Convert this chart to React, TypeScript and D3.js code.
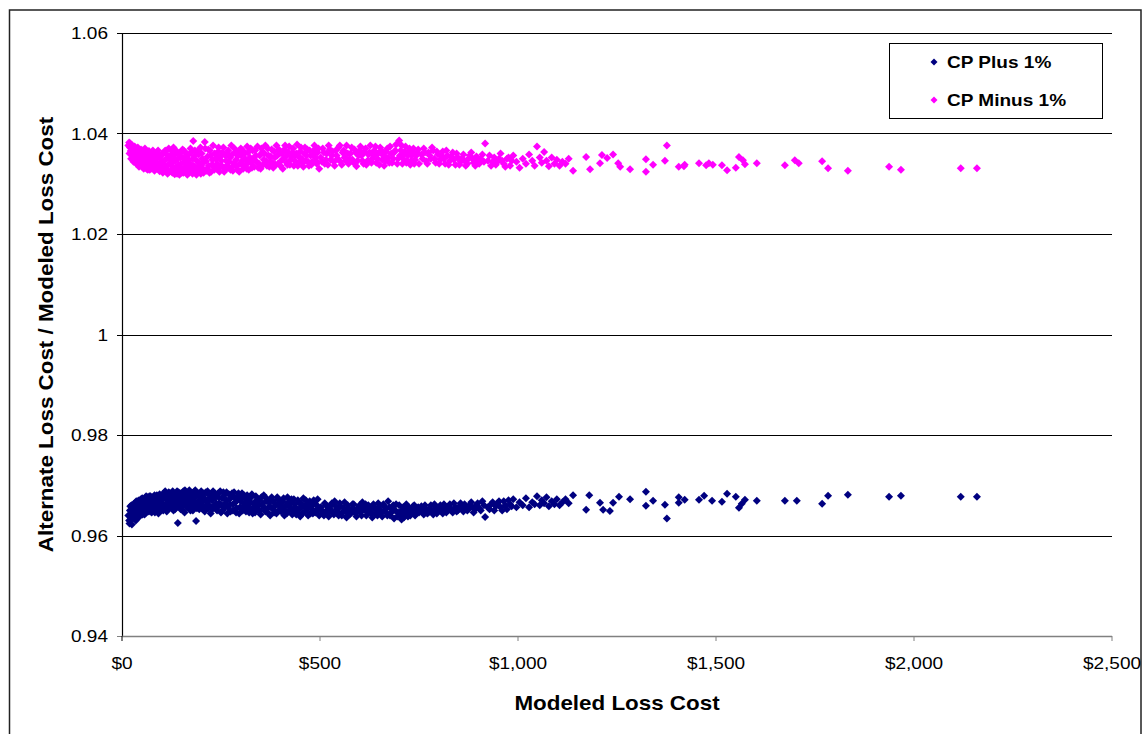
import React from "react";
import * as d3 from "d3";

const xTicks = [0, 500, 1000, 1500, 2000, 2500];
const yTicks = [0.94, 0.96, 0.98, 1.0, 1.02, 1.04, 1.06];
const yTickLabels = ["0.94", "0.96", "0.98", "1", "1.02", "1.04", "1.06"];
const seriesNames = ["CP Plus 1%", "CP Minus 1%"];
const seriesColors = ["#000080", "#FF00FF"];

const minusPoints: [number, number][] = [
  [18,1.0382],[20,1.0372],[22,1.0365],[24,1.0358],[25,1.0377],[27,1.0350],[28,1.0368],[30,1.0361],[32,1.0374],[33,1.0345],[35,1.0355],[37,1.0366],[38,1.0340],[40,1.0372],[42,1.0350],[44,1.0360],[45,1.0337],[47,1.0345],[48,1.0368],[50,1.0355],
  [52,1.0333],[54,1.0362],[56,1.0342],[58,1.0370],[60,1.0350],[62,1.0330],[64,1.0358],[66,1.0340],[68,1.0365],[70,1.0328],[72,1.0348],[75,1.0360],[77,1.0336],[80,1.0352],[82,1.0326],[85,1.0344],[87,1.0362],[90,1.0332],[92,1.0355],[95,1.0325],[97,1.0342],[100,1.0358],
  [103,1.0322],[105,1.0338],[108,1.0365],[110,1.0330],[113,1.0350],[115,1.0320],[118,1.0370],[120,1.0340],[123,1.0326],[126,1.0358],[128,1.0334],[130,1.0372],[133,1.0319],[135,1.0346],[138,1.0328],[140,1.0362],[143,1.0338],[145,1.0318],[148,1.0352],[150,1.0330],[153,1.0368],[155,1.0322],[158,1.0344],[160,1.0334],[163,1.0360],[165,1.0318],[168,1.0348],[170,1.0326],[173,1.0370],[175,1.0338],[178,1.0320],[180,1.0385],[183,1.0355],[185,1.0332],[188,1.0318],[190,1.0364],[193,1.0342],[195,1.0325],[198,1.0372],[200,1.0336],
  [203,1.0350],[206,1.0322],[209,1.0383],[212,1.0345],[215,1.0330],[218,1.0368],[221,1.0322],[224,1.0356],[227,1.0338],[230,1.0376],[233,1.0328],[236,1.0350],[240,1.0340],[243,1.0364],[246,1.0324],[250,1.0355],[253,1.0335],[256,1.0372],[260,1.0328],[263,1.0346],[266,1.0360],[270,1.0332],[273,1.0352],[276,1.0376],[280,1.0326],[283,1.0342],[286,1.0362],[290,1.0335],[293,1.0355],[296,1.0324],[300,1.0370],[303,1.0345],[306,1.0330],[310,1.0360],[313,1.0338],[316,1.0374],[320,1.0328],[323,1.0352],[326,1.0342],[330,1.0366],
  [334,1.0334],[338,1.0356],[342,1.0374],[346,1.0340],[350,1.0330],[354,1.0362],[358,1.0348],[362,1.0376],[366,1.0336],[370,1.0356],[374,1.0344],[378,1.0368],[382,1.0332],[386,1.0352],[390,1.0376],[394,1.0340],[398,1.0360],[402,1.0346],[406,1.0330],[410,1.0368],[414,1.0354],[418,1.0338],[422,1.0374],[426,1.0348],[430,1.0362],[434,1.0336],[438,1.0356],[442,1.0378],[446,1.0342],[450,1.0364],[454,1.0350],[458,1.0334],[462,1.0372],[466,1.0356],[470,1.0344],[474,1.0366],[478,1.0338],[482,1.0358],[486,1.0376],[490,1.0346],[494,1.0362],[498,1.0330],
  [502,1.0352],[507,1.0370],[512,1.0340],[517,1.0360],[522,1.0376],[527,1.0348],[532,1.0364],[537,1.0336],[542,1.0356],[547,1.0372],[552,1.0344],[557,1.0362],[562,1.0352],[567,1.0376],[572,1.0340],[577,1.0360],[582,1.0348],[587,1.0368],[592,1.0335],[597,1.0356],[602,1.0374],[607,1.0346],[612,1.0364],[617,1.0338],[622,1.0358],[627,1.0376],[632,1.0350],[637,1.0366],[642,1.0342],[647,1.0360],[652,1.0372],[657,1.0348],[662,1.0336],[667,1.0364],[672,1.0352],[677,1.0374],[682,1.0342],[687,1.0362],[692,1.0378],[697,1.0350],[700,1.0386],[704,1.0366],[708,1.0340],[712,1.0358],[716,1.0374],[720,1.0346],[724,1.0364],[728,1.0338],[732,1.0356],[736,1.0370],[740,1.0348],[745,1.0362],[750,1.0340],
  [756,1.0358],[762,1.0370],[768,1.0345],[774,1.0362],[780,1.0350],[786,1.0366],[792,1.0342],[798,1.0358],[804,1.0348],[810,1.0364],[816,1.0340],[822,1.0356],[828,1.0346],[835,1.0362],[842,1.0338],[848,1.0352],[855,1.0344],[862,1.0358],[868,1.0336],[875,1.0350],[882,1.0362],[888,1.0342],[895,1.0354],[902,1.0340],[910,1.0358],[917,1.0380],[924,1.0346],[932,1.0336],[940,1.0352],[948,1.0344],[956,1.0360],[964,1.0340],[972,1.0350],[980,1.0336],[988,1.0356],[996,1.0344],[1004,1.0332],[1012,1.0350],[1020,1.0340],[1028,1.0358],[1036,1.0346],[1042,1.0336],[1048,1.0374],[1055,1.0352],[1060,1.0342],[1066,1.0363],[1072,1.0346],[1078,1.0335],[1085,1.0352],[1092,1.0340],[1098,1.0348],[1105,1.0336],[1112,1.0344],[1120,1.0340],[1128,1.0350],
  [1139,1.0326],[1172,1.0353],[1182,1.0329],[1207,1.0341],[1212,1.0357],[1225,1.0351],[1240,1.0358],[1253,1.0341],[1258,1.0334],[1283,1.0329],
  [1323,1.0349],[1323,1.0324],[1341,1.0338],[1376,1.0376],[1371,1.0346],[1406,1.0334],[1419,1.0335],[1421,1.0338],[1457,1.0341],[1475,1.0337],[1482,1.0341],[1492,1.0338],[1515,1.0337],[1528,1.0327],[1550,1.0332],[1558,1.0353],[1568,1.0347],[1573,1.0339],[1603,1.0341],[1674,1.0337],[1699,1.0347],[1709,1.0341],[1768,1.0345],[1783,1.0331],[1833,1.0326],[1937,1.0334],[1967,1.0328],[2118,1.0331],[2159,1.0331],
  [16,1.0376],[19,1.0360],[21,1.0380],[23,1.0350],[26,1.0366],[29,1.0344],[31,1.0356],[34,1.0368],[36,1.0340],[39,1.0352],[41,1.0364],[43,1.0334],[46,1.0356],[49,1.0340],[51,1.0366],[53,1.0348],[55,1.0330],[57,1.0356],[59,1.0338],[61,1.0364],[63,1.0345],[65,1.0328],[67,1.0352],[69,1.0336],[71,1.0360],[73,1.0330],[76,1.0348],[78,1.0366],[81,1.0340],[83,1.0356],[86,1.0330],[88,1.0350],[91,1.0366],[93,1.0338],[96,1.0352],[98,1.0330],
  [101,1.0344],[104,1.0360],[106,1.0326],[109,1.0348],[111,1.0366],[114,1.0336],[116,1.0356],[119,1.0324],[121,1.0350],[124,1.0366],[127,1.0322],[129,1.0344],[131,1.0356],[134,1.0332],[136,1.0366],[139,1.0320],[141,1.0350],[144,1.0328],[146,1.0360],[149,1.0340],[151,1.0322],[154,1.0352],[156,1.0366],[159,1.0326],[161,1.0346],[164,1.0332],[166,1.0356],[169,1.0322],[171,1.0340],[174,1.0362],[176,1.0328],[179,1.0350],[181,1.0336],[184,1.0366],[186,1.0322],[189,1.0346],[191,1.0330],[194,1.0358],[196,1.0340],[199,1.0320],
  [201,1.0360],[204,1.0330],[207,1.0344],[210,1.0370],[213,1.0326],[216,1.0354],[219,1.0336],[222,1.0366],[225,1.0324],[228,1.0348],[231,1.0336],[234,1.0360],[238,1.0330],[241,1.0352],[244,1.0372],[248,1.0334],[251,1.0346],[254,1.0362],[258,1.0324],[261,1.0356],[264,1.0336],[268,1.0366],[271,1.0344],[274,1.0328],[278,1.0358],[281,1.0336],[284,1.0370],[288,1.0348],[291,1.0328],[294,1.0364],[298,1.0340],
  [301,1.0356],[305,1.0366],[308,1.0336],[311,1.0350],[315,1.0330],[318,1.0362],[321,1.0344],[325,1.0370],[328,1.0332],[332,1.0350],[336,1.0366],[340,1.0344],[344,1.0332],[348,1.0356],[352,1.0370],[356,1.0338],[360,1.0360],[364,1.0346],[368,1.0370],[372,1.0334],[376,1.0354],[380,1.0342],[384,1.0364],[388,1.0338],[392,1.0356],[396,1.0368],[400,1.0336],[404,1.0360],[408,1.0350],[412,1.0376],[416,1.0342],[420,1.0362],[424,1.0338],[428,1.0354],[432,1.0370],[436,1.0346],[440,1.0360],[444,1.0336],[448,1.0352],[452,1.0372],[456,1.0342],[460,1.0360],[464,1.0346],[468,1.0368],[472,1.0336],[476,1.0356],[480,1.0344],[484,1.0366],[488,1.0352],[492,1.0340],[496,1.0370],
  [505,1.0344],[510,1.0362],[515,1.0348],[520,1.0338],[525,1.0368],[530,1.0356],[535,1.0344],[540,1.0366],[545,1.0350],[550,1.0376],[555,1.0338],[560,1.0366],[565,1.0346],[570,1.0360],[575,1.0350],[580,1.0372],[585,1.0342],[590,1.0362],[595,1.0346],[600,1.0366],[605,1.0356],[610,1.0340],[615,1.0370],[620,1.0346],[625,1.0362],[630,1.0342],[635,1.0356],[640,1.0374],[645,1.0350],[650,1.0338],[655,1.0366],[660,1.0356],[665,1.0346],[670,1.0370],[675,1.0342],[680,1.0360],[685,1.0350],[690,1.0366],[695,1.0340],[702,1.0356],[706,1.0376],[710,1.0350],[714,1.0364],[718,1.0342],[722,1.0356],[726,1.0370],[730,1.0346],[734,1.0362],[738,1.0340],[743,1.0356],[748,1.0368],
  [759,1.0350],[765,1.0362],[771,1.0340],[777,1.0356],[783,1.0372],[789,1.0350],[795,1.0364],[801,1.0340],[807,1.0356],[813,1.0350],[819,1.0366],[825,1.0338],[832,1.0354],[838,1.0348],[845,1.0360],[852,1.0338],[858,1.0350],[865,1.0346],[872,1.0340],[878,1.0356],[885,1.0350],[892,1.0336],[898,1.0346],[906,1.0350],[914,1.0344],[928,1.0356],[936,1.0344],[944,1.0338],[952,1.0350],[960,1.0346],[968,1.0334],[976,1.0352],[984,1.0346],
];

const plusPoints: [number, number][] = [
  [18,0.9630],[20,0.9650],[22,0.9640],[24,0.9660],[25,0.9622],[27,0.9645],[28,0.9655],[30,0.9635],[32,0.9664],[33,0.9648],[35,0.9630],[37,0.9658],[38,0.9642],[40,0.9668],[42,0.9650],[44,0.9638],[45,0.9662],[47,0.9646],[48,0.9672],[50,0.9655],
  [52,0.9642],[54,0.9666],[56,0.9652],[58,0.9674],[60,0.9645],[62,0.9660],[64,0.9676],[66,0.9648],[68,0.9665],[70,0.9655],[72,0.9678],[75,0.9646],[77,0.9668],[80,0.9658],[82,0.9680],[85,0.9650],[87,0.9670],[90,0.9660],[92,0.9644],[95,0.9682],[97,0.9664],[100,0.9652],
  [103,0.9672],[105,0.9684],[108,0.9658],[110,0.9676],[113,0.9648],[115,0.9666],[118,0.9686],[120,0.9655],[123,0.9674],[126,0.9662],[128,0.9688],[130,0.9650],[133,0.9670],[135,0.9680],[138,0.9658],[141,0.9625],[143,0.9686],[145,0.9666],[148,0.9652],[150,0.9678],[153,0.9660],[155,0.9688],[158,0.9646],[160,0.9672],[163,0.9682],[165,0.9656],[168,0.9676],[170,0.9690],[173,0.9650],[175,0.9666],[178,0.9684],[180,0.9658],[183,0.9674],[185,0.9690],[187,0.9629],[190,0.9662],[193,0.9680],[195,0.9652],[198,0.9670],[200,0.9688],
  [203,0.9658],[206,0.9676],[209,0.9648],[212,0.9686],[215,0.9666],[218,0.9654],[221,0.9680],[224,0.9644],[227,0.9670],[230,0.9688],[233,0.9660],[236,0.9676],[240,0.9650],[243,0.9684],[246,0.9664],[250,0.9646],[253,0.9674],[256,0.9686],[260,0.9656],[263,0.9670],[266,0.9644],[270,0.9682],[273,0.9662],[276,0.9676],[280,0.9650],[283,0.9686],[286,0.9666],[290,0.9654],[293,0.9678],[296,0.9644],[300,0.9668],[303,0.9684],[306,0.9658],[310,0.9674],[313,0.9648],[316,0.9680],[320,0.9662],[323,0.9652],[326,0.9676],[330,0.9644],
  [334,0.9664],[338,0.9678],[342,0.9652],[346,0.9670],[350,0.9642],[354,0.9660],[358,0.9680],[362,0.9648],[366,0.9668],[370,0.9656],[374,0.9640],[378,0.9676],[382,0.9652],[386,0.9664],[390,0.9644],[394,0.9672],[398,0.9658],[402,0.9648],[406,0.9668],[410,0.9640],[414,0.9660],[418,0.9676],[422,0.9650],[426,0.9664],[430,0.9642],[434,0.9672],[438,0.9656],[442,0.9646],[446,0.9666],[450,0.9638],[454,0.9658],[458,0.9674],[462,0.9648],[466,0.9662],[470,0.9640],[474,0.9668],[478,0.9654],[482,0.9644],[486,0.9664],[490,0.9650],[494,0.9672],[498,0.9640],
  [502,0.9656],[507,0.9644],[512,0.9664],[517,0.9650],[522,0.9638],[527,0.9660],[532,0.9646],[537,0.9668],[542,0.9652],[547,0.9640],[552,0.9658],[557,0.9646],[562,0.9666],[567,0.9636],[572,0.9654],[577,0.9644],[582,0.9662],[587,0.9650],[592,0.9638],[597,0.9656],[602,0.9646],[607,0.9666],[612,0.9652],[617,0.9640],[622,0.9660],[627,0.9648],[632,0.9636],[637,0.9656],[642,0.9644],[647,0.9664],[652,0.9650],[657,0.9638],[662,0.9658],[667,0.9646],[672,0.9668],[677,0.9640],[682,0.9654],[687,0.9634],[692,0.9662],[697,0.9646],[702,0.9640],[706,0.9632],[710,0.9656],[714,0.9644],[718,0.9662],[722,0.9638],[726,0.9652],[730,0.9646],[735,0.9658],[740,0.9640],[745,0.9652],[750,0.9646],
  [756,0.9658],[762,0.9642],[768,0.9652],[774,0.9646],[780,0.9660],[786,0.9642],[792,0.9654],[798,0.9648],[804,0.9660],[810,0.9644],[816,0.9656],[822,0.9650],[828,0.9662],[835,0.9646],[842,0.9656],[848,0.9650],[855,0.9664],[862,0.9648],[868,0.9658],[875,0.9652],[882,0.9666],[888,0.9646],[895,0.9660],[902,0.9654],[910,0.9668],[917,0.9637],[924,0.9656],[932,0.9662],[940,0.9650],[948,0.9664],[956,0.9656],[964,0.9668],[972,0.9652],[980,0.9662],[988,0.9672],[996,0.9656],[1004,0.9666],[1012,0.9660],[1020,0.9674],[1028,0.9656],[1036,0.9666],[1042,0.9662],[1048,0.9678],[1055,0.9660],[1060,0.9670],[1066,0.9664],[1072,0.9676],[1078,0.9658],[1085,0.9668],[1092,0.9662],[1098,0.9672],[1105,0.9660],[1112,0.9666],[1120,0.9672],[1128,0.9664],
  [1139,0.9680],[1172,0.9651],[1180,0.9680],[1207,0.9665],[1215,0.9651],[1232,0.9649],[1240,0.9665],[1255,0.9677],[1283,0.9672],
  [1323,0.9687],[1323,0.9659],[1341,0.9669],[1371,0.9661],[1376,0.9634],[1406,0.9676],[1406,0.9665],[1421,0.9671],[1457,0.9671],[1470,0.9679],[1490,0.9669],[1515,0.9667],[1528,0.9683],[1550,0.9677],[1565,0.9663],[1558,0.9655],[1573,0.9671],[1603,0.9669],[1674,0.9669],[1704,0.9669],[1768,0.9663],[1783,0.9679],[1833,0.9681],[1937,0.9677],[1967,0.9679],[2118,0.9677],[2159,0.9677],
  [16,0.9640],[19,0.9624],[21,0.9658],[23,0.9632],[26,0.9652],[29,0.9662],[31,0.9642],[34,0.9655],[36,0.9668],[39,0.9636],[41,0.9656],[43,0.9670],[46,0.9640],[49,0.9660],[51,0.9674],[53,0.9650],[55,0.9670],[57,0.9642],[59,0.9662],[61,0.9678],[63,0.9652],[65,0.9668],[67,0.9658],[69,0.9678],[71,0.9648],[73,0.9664],[76,0.9676],[78,0.9652],[81,0.9670],[83,0.9646],[86,0.9664],[88,0.9680],[91,0.9652],[93,0.9672],[96,0.9658],[98,0.9676],
  [101,0.9664],[104,0.9650],[106,0.9676],[109,0.9688],[111,0.9662],[114,0.9678],[116,0.9654],[119,0.9670],[121,0.9684],[124,0.9658],[127,0.9678],[129,0.9664],[131,0.9682],[134,0.9652],[136,0.9668],[139,0.9688],[141,0.9660],[144,0.9674],[146,0.9656],[149,0.9684],[151,0.9666],[154,0.9650],[156,0.9676],[159,0.9690],[161,0.9660],[164,0.9670],[166,0.9684],[169,0.9662],[171,0.9654],[174,0.9680],[176,0.9672],[179,0.9650],[181,0.9686],[184,0.9664],[186,0.9678],[189,0.9654],[191,0.9684],[194,0.9668],[196,0.9660],[199,0.9680],
  [201,0.9666],[204,0.9652],[207,0.9684],[210,0.9670],[213,0.9660],[216,0.9688],[219,0.9672],[222,0.9658],[225,0.9680],[228,0.9652],[231,0.9674],[234,0.9684],[238,0.9664],[241,0.9656],[244,0.9676],[248,0.9688],[251,0.9660],[254,0.9650],[258,0.9680],[261,0.9664],[264,0.9686],[268,0.9656],[271,0.9672],[274,0.9648],[278,0.9684],[281,0.9662],[284,0.9676],[288,0.9646],[291,0.9670],[294,0.9684],[298,0.9656],
  [301,0.9676],[305,0.9650],[308,0.9680],[311,0.9664],[315,0.9654],[318,0.9672],[321,0.9646],[325,0.9666],[328,0.9682],[332,0.9656],[336,0.9646],[340,0.9670],[344,0.9660],[348,0.9650],[352,0.9676],[356,0.9664],[360,0.9654],[364,0.9674],[368,0.9646],[372,0.9666],[376,0.9656],[380,0.9670],[384,0.9646],[388,0.9660],[392,0.9676],[396,0.9650],[400,0.9666],[404,0.9656],[408,0.9674],[412,0.9650],[416,0.9644],[420,0.9666],[424,0.9656],[428,0.9672],[432,0.9650],[436,0.9662],[440,0.9642],[444,0.9670],[448,0.9652],[452,0.9664],[456,0.9644],[460,0.9658],[464,0.9670],[468,0.9652],[472,0.9662],[476,0.9644],[480,0.9660],[484,0.9670],[488,0.9646],[492,0.9660],[496,0.9652],
  [505,0.9650],[510,0.9640],[515,0.9660],[520,0.9646],[525,0.9654],[530,0.9664],[535,0.9642],[540,0.9658],[545,0.9648],[550,0.9664],[555,0.9640],[560,0.9654],[565,0.9648],[570,0.9660],[575,0.9642],[580,0.9652],[585,0.9662],[590,0.9644],[595,0.9650],[600,0.9660],[605,0.9640],[610,0.9654],[615,0.9662],[620,0.9646],[625,0.9656],[630,0.9644],[635,0.9662],[640,0.9652],[645,0.9640],[650,0.9658],[655,0.9646],[660,0.9662],[665,0.9652],[670,0.9640],[675,0.9656],[680,0.9646],[685,0.9660],[690,0.9650],[695,0.9638],[700,0.9660],[704,0.9648],[708,0.9644],[712,0.9636],[716,0.9652],[720,0.9646],[724,0.9656],[728,0.9640],[733,0.9650],[738,0.9660],[743,0.9644],[748,0.9656],
  [759,0.9650],[765,0.9660],[771,0.9644],[777,0.9654],[783,0.9648],[789,0.9662],[795,0.9644],[801,0.9654],[807,0.9650],[813,0.9662],[819,0.9646],[825,0.9656],[832,0.9652],[838,0.9664],[845,0.9648],[852,0.9658],[858,0.9654],[865,0.9662],[872,0.9650],[878,0.9660],[885,0.9656],[892,0.9652],[898,0.9664],[906,0.9650],[914,0.9660],[928,0.9652],[936,0.9666],[944,0.9658],[952,0.9668],[960,0.9650],[968,0.9660],[976,0.9670],[984,0.9658],
];

const W = 1145;
const H = 734;
const M = { left: 122, right: 1112, top: 33, bottom: 636 };
const FONT = "Arial, 'Liberation Sans', Helvetica, sans-serif";
const SX = 1.12;

const diamond = (r: number) => `M0,${-r}L${r},0L0,${r}L${-r},0Z`;

export default function App() {
  const x = d3.scaleLinear().domain([0, 2500]).range([M.left, M.right]);
  const y = d3.scaleLinear().domain([0.94, 1.06]).range([M.bottom, M.top]);
  const fmtX = d3.format("$,");
  const series = [plusPoints, minusPoints];
  const r = 4;

  return (
    <svg width={W} height={H} style={{ position: "absolute", left: 0, top: 0, background: "#fff" }}>
      <rect x={0} y={0} width={W} height={H} fill="#fff" />
      <rect x={9.5} y={10} width={1131.5} height={740} fill="none" stroke="#222" strokeWidth={1.5} />

      {yTicks.slice(1).map((t) => (
        <line key={t} x1={M.left} x2={M.right} y1={Math.round(y(t)) + 0.5} y2={Math.round(y(t)) + 0.5} stroke="#000" strokeWidth={1} />
      ))}

      <line x1={M.left + 0.5} x2={M.left + 0.5} y1={M.top} y2={M.bottom} stroke="#000" strokeWidth={1.2} />
      {yTicks.map((t, i) => (
        <g key={t}>
          <line x1={M.left - 5} x2={M.left} y1={Math.round(y(t)) + 0.5} y2={Math.round(y(t)) + 0.5} stroke={i === 0 ? "#808080" : "#000"} strokeWidth={1} />
          <text transform={`translate(108,${y(t) + 6}) scale(${SX},1)`} textAnchor="end" fontFamily={FONT} fontSize={17} fill="#000">
            {yTickLabels[i]}
          </text>
        </g>
      ))}

      <line x1={M.left} x2={M.right} y1={M.bottom + 0.5} y2={M.bottom + 0.5} stroke="#808080" strokeWidth={1.5} />
      {xTicks.map((t) => (
        <g key={t}>
          <line x1={x(t)} x2={x(t)} y1={M.bottom} y2={M.bottom + 5} stroke={t === 0 ? "#000" : "#808080"} strokeWidth={1} />
          <text transform={`translate(${x(t)},669) scale(${SX},1)`} textAnchor="middle" fontFamily={FONT} fontSize={17} fill="#000">
            {fmtX(t)}
          </text>
        </g>
      ))}

      {series.map((pts, si) => (
        <g key={si} fill={seriesColors[si]}>
          {pts.map(([vx, vy], i) => (
            <path key={i} d={diamond(r)} transform={`translate(${x(vx)},${y(vy)})`} />
          ))}
        </g>
      ))}

      <text transform={`translate(${(M.left + M.right) / 2},710) scale(${SX},1)`} textAnchor="middle" fontFamily={FONT} fontSize={20} fontWeight="bold" fill="#000">
        Modeled Loss Cost
      </text>
      <text transform={`translate(53,${(M.top + M.bottom) / 2}) rotate(-90) scale(${SX},1)`} textAnchor="middle" fontFamily={FONT} fontSize={20} fontWeight="bold" fill="#000">
        Alternate Loss Cost / Modeled Loss Cost
      </text>

      <rect x={889.5} y={43.5} width={213} height={75} fill="#fff" stroke="#000" strokeWidth={1} />
      {seriesNames.map((name, i) => (
        <g key={name}>
          <path d={diamond(3.5)} transform={`translate(934,${62 + i * 38})`} fill={seriesColors[i]} />
          <text transform={`translate(947,${68 + i * 38}) scale(${SX},1)`} fontFamily={FONT} fontSize={17} fontWeight="bold" fill="#000">
            {name}
          </text>
        </g>
      ))}
    </svg>
  );
}
